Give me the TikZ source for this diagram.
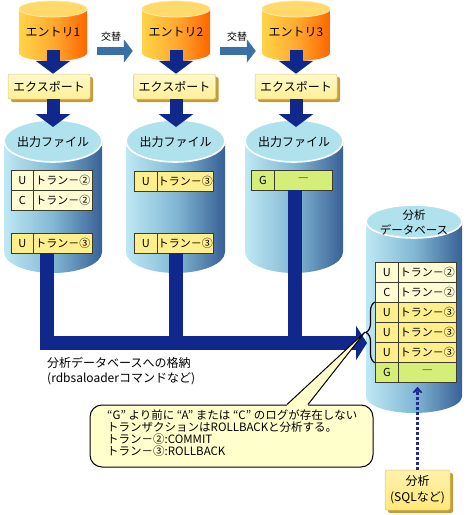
\documentclass[tikz,border=0pt]{standalone}
\usepackage{fontspec}
\setmainfont{Noto Sans CJK JP}
\usetikzlibrary{arrows.meta,shadows,decorations.pathreplacing}
\definecolor{navy}{RGB}{16,40,140}
\definecolor{steel}{RGB}{58,112,168}
\definecolor{ortop}{RGB}{255,217,106}
\definecolor{orleft}{RGB}{255,212,72}
\definecolor{ormid}{RGB}{255,170,48}
\definecolor{orright}{RGB}{255,102,0}
\definecolor{bltop}{RGB}{176,226,238}
\definecolor{blleft}{RGB}{190,232,244}
\definecolor{blmid}{RGB}{130,184,212}
\definecolor{blright}{RGB}{56,96,150}
\definecolor{cream}{RGB}{255,252,212}
\definecolor{ylw}{RGB}{255,238,140}
\definecolor{grn}{RGB}{212,238,120}
\definecolor{exfill}{RGB}{255,240,150}
\definecolor{exshadow}{RGB}{196,156,60}
\definecolor{anfill}{RGB}{255,232,120}
\definecolor{notefill}{RGB}{255,255,204}
\definecolor{cellline}{RGB}{60,60,44}
\definecolor{dotblue}{RGB}{30,40,150}
% cylinder: x0, x1, y of top ellipse centre, y of bottom ellipse centre, y radius, body style, top style
\newcommand\mycyl[7]{%
  \path[#6] (#1,#3) -- (#1,#4) arc[start angle=180,end angle=0,x radius={(#2-#1)/2},y radius=#5] -- (#2,#3) -- cycle;
  \path[#7] ({(#1+#2)/2},#3) ellipse [x radius={(#2-#1)/2},y radius=#5];
}
% record row: name, x0, xdiv, x1, ytop, fill, letter, text
\newcommand\recrow[8]{%
  \node[cellbox,fill=#6,minimum width={(#3-#2)*1pt},anchor=north west] (#1a) at (#2,#5) {#7};
  \node[cellbox,fill=#6,minimum width={(#4-#3)*1pt},anchor=north west] (#1b) at (#3,#5) {#8};
}
\begin{document}
\begin{tikzpicture}[x=1pt,y=-1pt,
  lbl/.style={font=\fontsize{12}{15}\selectfont,inner sep=0pt,align=center},
  swlbl/.style={font=\fontsize{10}{12}\selectfont,inner sep=0pt},
  orbody/.style={left color=orleft,right color=orright,middle color=ormid},
  ortopst/.style={fill=ortop,draw=ortop!60!white,line width=0.8pt},
  blbody/.style={left color=blleft,right color=blright,middle color=blmid},
  bltopst/.style={fill=bltop,draw=white,line width=1.6pt},
  fatarrow/.style={draw=navy,line width=13pt,-{Triangle[width=34pt,length=13pt]}},
  busline/.style={draw=navy,line width=14pt,line join=miter},
  swarrow/.style={draw=steel,line width=8pt,-{Triangle[width=23pt,length=9pt]}},
  exbox/.style={rectangle,rounded corners=2pt,minimum width=82pt,minimum height=25pt,inner sep=0pt,
    top color=exfill!50!white,bottom color=exfill,draw=exfill!85!black,line width=0.5pt,
    font=\fontsize{12}{14}\selectfont,
    drop shadow={shadow xshift=3pt,shadow yshift=-3pt,fill=exshadow,opacity=1}},
  anbox/.style={rectangle,rounded corners=2pt,minimum width=65pt,minimum height=40pt,inner sep=0pt,
    top color=anfill!60!white,bottom color=anfill,draw=anfill!85!black,line width=0.5pt,align=center,
    font=\fontsize{12}{16}\selectfont,
    drop shadow={shadow xshift=3pt,shadow yshift=-3pt,fill=exshadow,opacity=1}},
  cellbox/.style={rectangle,draw=cellline,line width=0.8pt,minimum height=20pt,inner sep=0pt,
    font=\fontsize{11}{13}\selectfont},
  notebox/.style={rectangle,rounded corners=12pt,draw=black,fill=notefill,line width=1pt,
    minimum width=283pt,minimum height=62pt,inner sep=0pt},
  dotarrow/.style={draw=dotblue,line width=3pt,dash pattern=on 3pt off 2pt,
    -{Stealth[length=7pt,width=12pt,round]}},
  ]
\useasboundingbox (0,0) rectangle (468,515);

% ---- entry cylinders ----
\mycyl{19}{87}{9}{53}{8}{orbody}{ortopst}
\mycyl{142}{210}{9}{53}{8}{orbody}{ortopst}
\mycyl{262}{330}{9}{53}{8}{orbody}{ortopst}
\node[lbl,minimum width=68pt,minimum height=62pt] (ent1) at (53,32) {エントリ1};
\node[lbl,minimum width=68pt,minimum height=62pt] (ent2) at (176,32) {エントリ2};
\node[lbl,minimum width=68pt,minimum height=62pt] (ent3) at (296,32) {エントリ3};

% ---- swap arrows ----
\draw[swarrow] ([xshift=10pt,yshift=-19pt]ent1.east) -- ([xshift=-9pt,yshift=-19pt]ent2.west);
\draw[swarrow] ([xshift=10pt,yshift=-19pt]ent2.east) -- ([xshift=-6pt,yshift=-19pt]ent3.west);
\node[swlbl] (sw1) at (111,37) {交替};
\node[swlbl] (sw2) at (237,37) {交替};

% ---- export boxes ----
\coordinate (e1b) at (53,50);
\coordinate (e2b) at (176,50);
\coordinate (e3b) at (296,50);
\node[exbox] (ex1) at (49,86.5) {エクスポート};
\node[exbox] (ex2) at (174.5,86.5) {エクスポート};
\node[exbox] (ex3) at (296,86.5) {エクスポート};
\draw[fatarrow] (e1b) -- (e1b |- ex1.north);
\draw[fatarrow] (e2b) -- (e2b |- ex2.north);
\draw[fatarrow] (e3b) -- (e3b |- ex3.north);

% ---- output file cylinders ----
\mycyl{4}{102}{141}{252}{21}{blbody}{bltopst}
\mycyl{126}{225}{141}{252}{21}{blbody}{bltopst}
\mycyl{245}{343}{141}{252}{21}{blbody}{bltopst}
\node[lbl] (out1) at (53,142) {出力ファイル};
\node[lbl] (out2) at (175.5,142) {出力ファイル};
\node[lbl] (out3) at (294,142) {出力ファイル};
\coordinate (o1t) at (53,127);
\coordinate (o2t) at (176,127);
\coordinate (o3t) at (296,127);
\draw[fatarrow] (ex1.south -| o1t) -- (o1t);
\draw[fatarrow] (ex2.south -| o2t) -- (o2t);
\draw[fatarrow] (ex3.south -| o3t) -- (o3t);

% ---- analysis database cylinder ----
\mycyl{366}{462}{221.5}{396.5}{16.5}{blbody}{bltopst}
\node[lbl,font=\fontsize{11.5}{15}\selectfont] (dbl) at (414,222) {分析\\データベース};

% ---- records ----
\recrow{ra}{11}{33}{92}{170}{cream}{U}{トラン－②}
\recrow{rb}{11}{33}{92}{190}{cream}{C}{トラン－②}
\recrow{rc}{11}{33}{92}{233}{ylw}{U}{トラン－③}
\recrow{rd}{134}{157}{213}{171}{ylw}{U}{トラン－③}
\recrow{re}{134}{157}{213}{233}{ylw}{U}{トラン－③}
\recrow{rf}{251}{274}{332}{170}{grn}{G}{―}
\recrow{da}{375}{398}{456}{262}{cream}{U}{トラン－②}
\recrow{db}{375}{398}{456}{282}{cream}{C}{トラン－②}
\recrow{dc}{375}{398}{456}{302}{ylw}{U}{トラン－③}
\recrow{dd}{375}{398}{456}{322}{ylw}{U}{トラン－③}
\recrow{de}{375}{398}{456}{342}{ylw}{U}{トラン－③}
\recrow{dg}{375}{398}{456}{362}{grn}{G}{―}

% ---- load bus ----
\coordinate (s1) at (47,253);
\coordinate (s2) at (176,253);
\coordinate (s3) at (294.5,190);
\coordinate (dbin) at (367,343);
\draw[busline] (s2) -- (s2 |- dbin);
\draw[busline] (s3) -- (s3 |- dbin);
\draw[busline,-{Triangle[width=34pt,length=11pt]}] (s1) |- (dbin);
\node[anchor=north west,align=left,font=\fontsize{12}{15}\selectfont,inner sep=0pt] (store) at (47,357)
  {分析データベースへの格納\\(rdbsaloaderコマンドなど)};

% ---- brace and note ----
\draw[line width=1.2pt,decorate,decoration={brace,amplitude=9pt}] (dea.south west) -- (dca.north west);
\coordinate (bt) at (365,332);
\node[notebox] (note) at (231.5,436) {};
\fill[notefill] ([xshift=55.5pt,yshift=-1.5pt]note.north) -- ([xshift=55.5pt]note.north) -- (bt)
  -- ([xshift=76.5pt]note.north) -- ([xshift=76.5pt,yshift=-1.5pt]note.north) -- cycle;
\draw[line width=1pt,line join=round] ([xshift=55.5pt]note.north) -- (bt) -- ([xshift=76.5pt]note.north);
\node[anchor=north west,align=left,font=\fontsize{11.5}{12}\selectfont,inner sep=0pt] (notetxt) at (107,410)
  {“G” より前に “A” または “C” のログが存在しない\\
   トランザクションはROLLBACKと分析する。\\
   トラン－②:COMMIT\\
   トラン－③:ROLLBACK};

% ---- analysis ----
\coordinate (dbb) at (417.5,387);
\node[anbox] (ana) at (417.5,490) {分析\\(SQLなど)};
\draw[dotarrow] (ana.north) -- (dbb);
\end{tikzpicture}
\end{document}
